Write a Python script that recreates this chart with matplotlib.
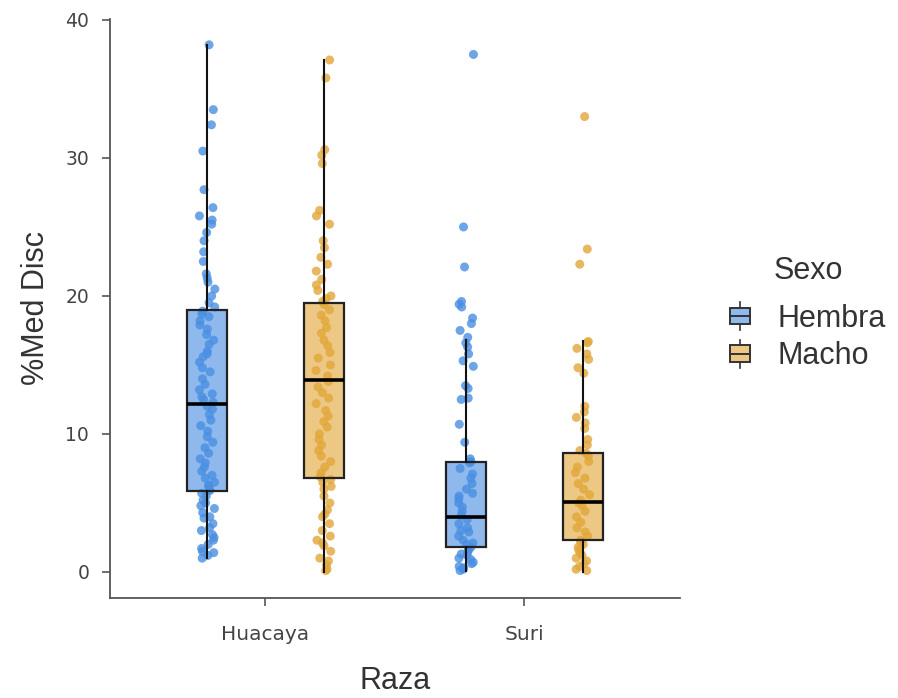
# Boxplot of %Med Disc by Raza and Sexo, with jittered points

import numpy as np
import matplotlib.pyplot as plt
from matplotlib.patches import Patch, Rectangle
from matplotlib.lines import Line2D
from matplotlib.legend_handler import HandlerBase
from matplotlib.colors import to_rgba

plt.rcParams['font.family'] = ['Liberation Sans', 'DejaVu Sans']

# Categories
razas = ['Huacaya', 'Suri']
sexos = ['Hembra', 'Macho']
colors = {'Hembra': '#4A8FE2', 'Macho': '#E2A73A'}

# Box statistics: (whislo, q1, med, q3, whishi)
box_stats = {
    ('Huacaya', 'Hembra'): (1.0, 5.9, 12.2, 19.0, 38.2),
    ('Huacaya', 'Macho'): (0.0, 6.8, 13.9, 19.5, 37.1),
    ('Suri', 'Hembra'): (0.1, 1.8, 4.0, 8.0, 16.8),
    ('Suri', 'Macho'): (0.0, 2.3, 5.1, 8.6, 16.7),
}

# Individual observations (approximate)
pts_huacaya_hembra = [38.2, 33.5, 32.4, 30.5, 27.7, 26.4, 25.8, 25.5, 25.2, 24.6,
                      24.0, 23.2, 22.5, 21.6, 21.3, 21.0, 20.5, 20.0, 19.5, 19.2,
                      18.9, 18.7, 18.5, 18.2, 17.9, 17.6, 17.2, 16.8, 16.5, 16.0,
                      15.8, 15.6, 15.2, 14.8, 14.5, 14.0, 13.6, 13.2, 12.9, 12.7,
                      12.5, 12.3, 12.0, 11.8, 11.4, 11.0, 10.6, 10.2, 9.8, 9.4,
                      9.0, 8.6, 8.2, 7.9, 7.6, 7.3, 7.0, 6.8, 6.5, 6.3,
                      6.2, 6.0, 5.9, 5.7, 5.5, 5.2, 5.0, 4.8, 4.6, 4.3,
                      4.0, 3.9, 3.5, 3.2, 3.0, 2.7, 2.5, 2.3, 2.0, 1.7,
                      1.5, 1.4, 1.2, 1.0]
pts_huacaya_macho = [37.1, 35.8, 30.6, 30.2, 29.6, 26.2, 25.8, 25.2, 24.0, 23.5,
                     22.8, 22.3, 21.8, 21.2, 20.8, 20.4, 20.0, 19.8, 19.6, 19.4,
                     19.0, 18.6, 18.2, 17.7, 17.3, 16.8, 16.4, 15.9, 15.5, 15.0,
                     14.6, 14.2, 13.8, 13.4, 13.0, 12.6, 12.2, 11.7, 11.3, 10.9,
                     10.5, 10.0, 9.6, 9.2, 8.8, 8.4, 8.0, 7.6, 7.2, 6.9,
                     6.7, 6.5, 6.2, 6.0, 5.5, 5.0, 4.5, 4.2, 4.0, 3.5,
                     3.0, 2.6, 2.3, 2.1, 1.9, 1.5, 1.0, 0.8, 0.5, 0.2, 0.1]
pts_suri_hembra = [37.5, 25.0, 22.1, 19.6, 19.4, 19.2, 18.4, 18.0, 17.5, 17.0,
                   16.6, 16.3, 15.8, 15.3, 14.9, 13.5, 13.3, 12.6, 12.5, 10.7,
                   9.4, 8.2, 8.0, 7.9, 7.5, 7.1, 6.8, 6.4, 6.0, 5.7,
                   5.5, 5.3, 5.0, 4.7, 4.4, 4.1, 3.8, 3.5, 3.2, 3.0,
                   2.9, 2.6, 2.3, 2.1, 2.0, 1.8, 1.6, 1.5, 1.3, 1.2,
                   1.0, 0.9, 0.7, 0.6, 0.4, 0.3, 0.2, 0.1]
pts_suri_macho = [33.0, 23.4, 22.3, 16.7, 16.6, 16.2, 15.8, 15.4, 14.8, 14.4,
                  12.0, 11.6, 11.2, 10.8, 10.4, 9.6, 9.2, 8.8, 8.6, 8.4,
                  8.0, 7.6, 7.2, 6.8, 6.4, 6.0, 5.6, 5.2, 5.0, 4.8,
                  4.4, 4.0, 3.6, 3.2, 2.9, 2.6, 2.3, 2.2, 2.0, 1.8,
                  1.6, 1.4, 1.2, 1.0, 0.8, 0.6, 0.4, 0.2, 0.1]

points = {
    ('Huacaya', 'Hembra'): pts_huacaya_hembra,
    ('Huacaya', 'Macho'): pts_huacaya_macho,
    ('Suri', 'Hembra'): pts_suri_hembra,
    ('Suri', 'Macho'): pts_suri_macho,
}


# Legend key that looks like a small boxplot
class BoxKey(HandlerBase):
    def create_artists(self, legend, orig_handle, xdescent, ydescent,
                       width, height, fontsize, trans):
        x0, y0 = -xdescent, -ydescent
        face = orig_handle.get_facecolor()
        rect = Rectangle((x0, y0 + 0.15 * height), width, 0.7 * height,
                         facecolor=face, edgecolor='#333333', lw=1.4,
                         transform=trans)
        med = Line2D([x0, x0 + width], [y0 + 0.5 * height] * 2,
                     color='#333333', lw=1.4, transform=trans)
        lo = Line2D([x0 + width / 2] * 2, [y0 - 0.1 * height, y0 + 0.15 * height],
                    color='#333333', lw=1.2, transform=trans)
        hi = Line2D([x0 + width / 2] * 2, [y0 + 0.85 * height, y0 + 1.1 * height],
                    color='#333333', lw=1.2, transform=trans)
        return [rect, med, lo, hi]


fig = plt.figure(figsize=(8.98, 6.98), dpi=100)
ax = fig.add_axes([0.1225, 0.1430, 0.6345, 0.8304])

dodge = 0.225
box_w = 0.154
# jitter offsets are only for display (points spread sideways)
rng = np.random.default_rng(7)

for i, raza in enumerate(razas):
    for j, sexo in enumerate(sexos):
        pos = i + 1 + (-dodge if sexo == 'Hembra' else dodge)
        vals = np.array(points[(raza, sexo)])
        jit = rng.uniform(-0.03, 0.03, len(vals))
        ax.scatter(pos + jit, vals, s=42, color=colors[sexo], alpha=0.8,
                   edgecolors='none', zorder=2)
        lo, q1, med, q3, hi = box_stats[(raza, sexo)]
        stats = [dict(whislo=lo, q1=q1, med=med, q3=q3, whishi=hi, fliers=[])]
        ax.bxp(stats, positions=[pos], widths=box_w, patch_artist=True,
               showcaps=False, showfliers=False,
               boxprops=dict(facecolor=to_rgba(colors[sexo], 0.62),
                             edgecolor='#222222', lw=1.6),
               medianprops=dict(color='black', lw=2.6),
               whiskerprops=dict(color='#111111', lw=1.5),
               zorder=3)

ax.set_xlim(0.4, 2.6)
ax.set_ylim(-1.9, 40.1)
ax.set_xticks([1, 2])
ax.set_xticklabels(razas)
ax.set_yticks([0, 10, 20, 30, 40])

for side in ['top', 'right']:
    ax.spines[side].set_visible(False)
for side in ['left', 'bottom']:
    ax.spines[side].set_color('#555555')
    ax.spines[side].set_linewidth(1.3)
ax.tick_params(direction='out', length=6, width=1.2, color='#555555',
               labelcolor='#444444', labelsize=13.5)
ax.tick_params(axis='x', pad=13, labelsize=14.5)
ax.tick_params(axis='y', pad=9)
for lab in ax.get_xticklabels() + ax.get_yticklabels():
    lab.set_family('DejaVu Sans')

ax.set_xlabel('Raza', fontsize=22, color='#333333', labelpad=16)
ax.set_ylabel('%Med Disc', fontsize=22, color='#333333', labelpad=10)

handles = [Patch(facecolor=to_rgba(colors[s], 0.62), label=s) for s in sexos]
leg = fig.legend(handles=handles, title='Sexo', loc='center left',
                 bbox_to_anchor=(0.796, 0.551), frameon=False, borderpad=0,
                 handler_map={Patch: BoxKey()}, fontsize=22,
                 title_fontsize=22, handlelength=0.65, handleheight=0.8,
                 handletextpad=0.9, labelspacing=0.25)
leg._legend_box.sep = 13
for t in leg.get_texts():
    t.set_color('#333333')
leg.get_title().set_color('#333333')

fig.savefig('out.png', dpi=100)
